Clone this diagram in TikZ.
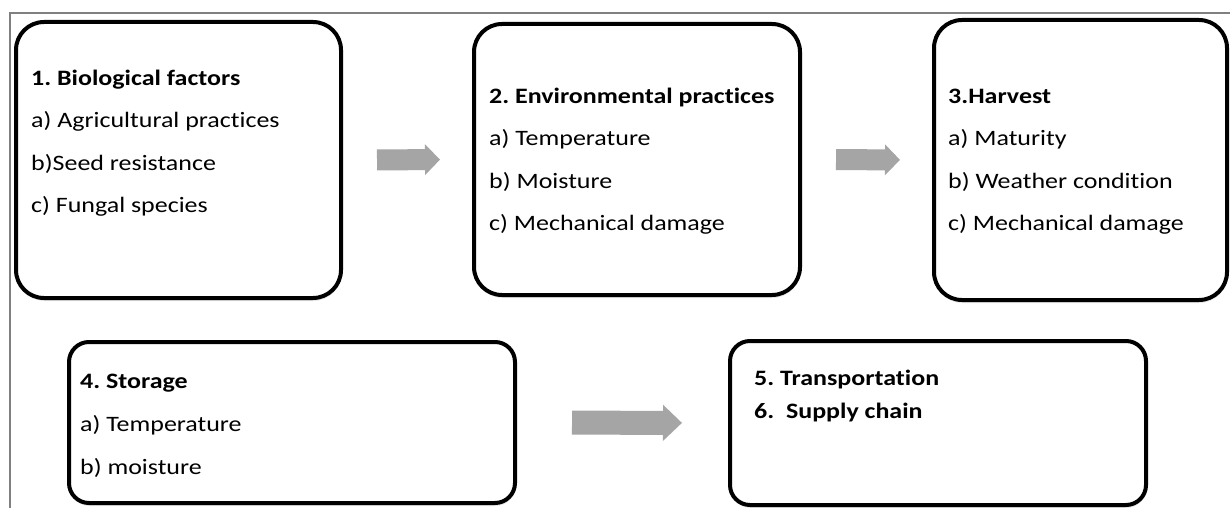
\documentclass[tikz,border=0pt]{standalone}
\usepackage{fontspec}
\setmainfont{Carlito}[FakeStretch=1.18, Ligatures={NoCommon}]
\usetikzlibrary{arrows.meta,shadows}
\definecolor{arrowgray}{HTML}{A5A5A5}
\definecolor{framegray}{HTML}{808080}
\newcommand{\firststrut}{\rule{0pt}{18pt}}
\frenchspacing
\tikzset{
  stagebox/.style={draw=black, line width=4pt, fill=white, inner sep=0pt,
    drop shadow={shadow xshift=0.5pt, shadow yshift=-3pt, opacity=0.18}},
  bigbox/.style={stagebox, rounded corners=28pt},
  smallbox/.style={stagebox, rounded corners=20pt},
  stagetext/.style={anchor=north west, align=left, inner sep=0pt,
    font=\fontsize{22}{42.5}\selectfont\frenchspacing},
  flowarrow/.style={draw=arrowgray, line width=21pt,
    -{Triangle[width=30pt,length=15pt,fill=arrowgray]}},
  bigarrow/.style={draw=arrowgray, line width=24pt,
    -{Triangle[width=35pt,length=19pt,fill=arrowgray]}}
}
\begin{document}
\begin{tikzpicture}[x=1pt,y=-1pt]
\useasboundingbox (0,0) rectangle (1230,508);
\fill[white] (0,0) rectangle (1230,508);
\draw[framegray, line width=1.2pt] (10,508) -- (10,13) -- (1230,13);

\node[bigbox, minimum width=325pt, minimum height=276pt] (b1) at (178.5,160) {};
\node[bigbox, minimum width=326pt, minimum height=271pt] (b2) at (637,159.5) {};
\node[bigbox, minimum width=293pt, minimum height=280pt] (b3) at (1080.5,160) {};
\node[smallbox, minimum width=446pt, minimum height=161pt] (b4) at (292,422.5) {};
\node[smallbox, minimum width=416pt, minimum height=164pt] (b5) at (938,423) {};

% text tops = first baseline - 18
\node[stagetext] (t1) at (31,67) {\firststrut\textbf{1. Biological factors}\\a) Agricultural practices\\b)Seed resistance\\c) Fungal species};
\node[stagetext] (t2) at (489,85) {\firststrut\textbf{2. Environmental practices}\\a) Temperature\\b) Moisture\\c) Mechanical damage};
\node[stagetext] (t3) at (948,85) {\firststrut\textbf{3.Harvest}\\a) Maturity\\b) Weather condition\\c) Mechanical damage};
\node[stagetext, font=\fontsize{22}{43}\selectfont\frenchspacing] (t4) at (80,370) {\firststrut\textbf{4. Storage}\\a) Temperature\\b) moisture};
\node[stagetext, font=\fontsize{22}{33}\selectfont\frenchspacing] (t5) at (754,367) {\firststrut\textbf{5. Transportation}\\\textbf{6.\ \ Supply chain}};

\draw[flowarrow, shorten <=34pt, shorten >=32pt] (b1.east) -- (b2.west);
\draw[flowarrow, shorten <=34pt, shorten >=32pt] (b2.east) -- (b3.west);
\draw[bigarrow, shorten <=55pt, shorten >=46pt] (b4.east) -- (b5.west);
\end{tikzpicture}
\end{document}
